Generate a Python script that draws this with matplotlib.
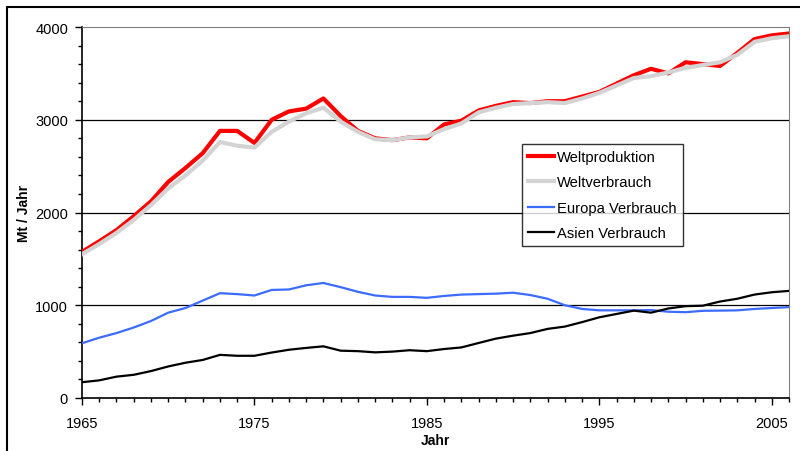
import numpy as np
import matplotlib
matplotlib.use("Agg")
import matplotlib.pyplot as plt
from matplotlib.patches import Rectangle
from matplotlib.ticker import MultipleLocator

plt.rcParams['font.family'] = ['Liberation Sans', 'DejaVu Sans']

jahre = list(range(1965, 2007))

weltproduktion = [1575, 1690, 1810, 1960, 2120, 2330, 2480, 2640, 2880, 2880,
                  2750, 3000, 3090, 3120, 3230, 3040, 2880, 2800, 2780, 2810,
                  2800, 2950, 2990, 3100, 3150, 3190, 3180, 3200, 3200, 3250,
                  3300, 3390, 3480, 3550, 3500, 3620, 3600, 3580, 3720, 3870,
                  3910, 3930]

weltverbrauch = [1550, 1660, 1780, 1920, 2080, 2260, 2400, 2560, 2760, 2720,
                 2700, 2870, 2980, 3070, 3130, 2980, 2870, 2790, 2780, 2810,
                 2820, 2900, 2960, 3080, 3130, 3170, 3180, 3190, 3180, 3230,
                 3290, 3370, 3450, 3470, 3510, 3560, 3590, 3620, 3700, 3840,
                 3880, 3900]

europa = [590, 650, 700, 760, 830, 920, 970, 1050, 1130, 1120,
          1105, 1165, 1170, 1215, 1240, 1195, 1145, 1105, 1090, 1090,
          1080, 1100, 1115, 1120, 1125, 1135, 1110, 1070, 1000, 960,
          945, 945, 945, 948, 930, 925, 940, 942, 945, 960,
          970, 980]

asien = [170, 190, 230, 250, 290, 340, 380, 410, 465, 455,
         455, 490, 520, 540, 557, 510, 505, 492, 500, 515,
         505, 528, 545, 593, 640, 672, 700, 745, 770, 818,
         870, 906, 942, 920, 965, 990, 995, 1040, 1070, 1115,
         1140, 1155]

fig = plt.figure(figsize=(8, 4.52), dpi=100)
ax = fig.add_axes([0.1025, 0.1173, 0.88375, 0.8207])

# grid lines behind the data
for v in [1000, 2000, 3000]:
    ax.axhline(v, color='black', lw=0.9, zorder=1)

ax.plot(jahre, weltproduktion, color='#ff0000', lw=3.0, label='Weltproduktion',
        solid_joinstyle='round', zorder=3)
ax.plot(jahre, weltverbrauch, color='#d3d3d3', lw=3.0, label='Weltverbrauch',
        solid_joinstyle='round', zorder=4)
ax.plot(jahre, europa, color='#3c6cff', lw=1.6, label='Europa Verbrauch', zorder=3)
ax.plot(jahre, asien, color='black', lw=1.6, label='Asien Verbrauch', zorder=3)

ax.set_xlim(1965, 2006)
ax.set_ylim(0, 4000)
ax.set_xticks([1965, 1975, 1985, 1995, 2005])
ax.set_yticks([0, 1000, 2000, 3000, 4000])
ax.xaxis.set_minor_locator(MultipleLocator(1))
ax.yaxis.set_minor_locator(MultipleLocator(200))
ax.tick_params(axis='both', which='major', direction='out', length=5, width=1,
               labelsize=10.5)
ax.tick_params(axis='both', which='minor', direction='out', length=3, width=1)
ax.tick_params(axis='x', which='major', pad=8)
ax.tick_params(axis='y', which='major', pad=5)

ax.spines['top'].set_color('#808080')
ax.spines['right'].set_color('#808080')
ax.spines['left'].set_linewidth(1.2)
ax.spines['bottom'].set_linewidth(1.2)

ax.set_ylabel('Mt / Jahr', fontweight='bold', fontsize=10, labelpad=3)
ax.set_xlabel('Jahr', fontweight='bold', fontsize=10, labelpad=2)

leg = ax.legend(loc='upper left', bbox_to_anchor=(0.622, 0.685), fontsize=10.6,
                frameon=True, fancybox=False, handlelength=1.8,
                borderpad=0.4, labelspacing=0.78, handletextpad=0.2,
                borderaxespad=0)
leg.get_frame().set_edgecolor('black')
leg.get_frame().set_linewidth(1.0)
leg.set_zorder(5)

# outer chart border (partly cut off at right and bottom)
fig.patches.append(Rectangle((7 / 800, -0.1), 1.1, 1.1 - 8 / 452,
                             transform=fig.transFigure, fill=False,
                             edgecolor='black', lw=1.5))

fig.savefig('out.png', dpi=100)
